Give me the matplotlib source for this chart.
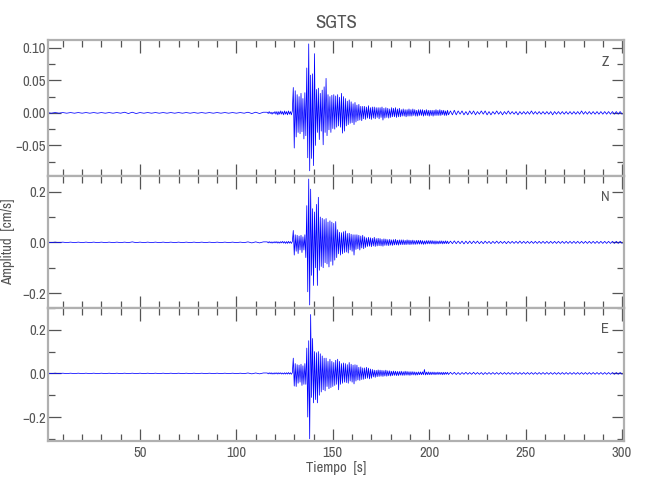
import numpy as np
import matplotlib
matplotlib.use("Agg")
import matplotlib.pyplot as plt
from matplotlib import font_manager
from matplotlib.ticker import MultipleLocator, FuncFormatter

# ---------------- data (amplitudes in 1e-3 cm/s) ----------------
station = "SGTS"
components = ["Z", "N", "E"]

pre_start, pre_step = 2.0, 2.0        # quiet part before the event
event_start, event_step = 116.0, 0.5  # event part
tail_start, tail_step = 211.0, 1.0    # coda tail

z_pre = [0.5, -0.5, 0.5, -0.5, 0.5, -0.5, 0.5, -0.5, 0.5, -0.5, 0.5, -0.5, 0.5, -0.5,
         0.5, -0.5, 0.5, -0.5, 0.5, -0.5, 1, -1, 1, -1, 0.5, -0.5, 0.5, -0.5, 0.5,
         -0.5, 0.5, -0.5, 0.5, -0.5, 0.5, -0.5, 0.5, -0.5, 0.5, -0.5, 0.5, -0.5, 0.5,
         -0.5, 0.5, -0.5, 0.5, -0.5, 0.5, -0.5, 0.5, -0.5, 1, -1, 1, -1, 1]
z_event = [1, -1, 2, -1, 1, -2, 1, -1, 2, -2,
           2, -3, 2, -2, 3, -2, 2, -3, 3, -2,
           2, -3, 3, -2, 2, -3, 3, 39, -54, 34,
           -37, 28, -30, 25, -32, 30, -29, 22, -40, 31,
           -35, 69, -69, 106, -89, 58, -70, 60, -81, 91,
           -50, 36, -30, 38, -41, 30, -28, 35, -49, 40,
           -30, 53, -35, 28, -26, 25, -30, 27, -24, 28,
           -25, 26, -22, 28, -20, 24, -22, 30, -31, 25,
           -28, 22, -20, 18, -18, 20, -16, 17, -15, 14,
           -18, 16, -14, 12, -12, 13, -11, 10, -12, 10,
           -9, 10, -10, 9, -8, 11, -9, 8, -10, 9,
           -8, 9, -9, 8, -7, 8, -9, 8, -7, 9,
           -11, 7, -8, 8, -7, 7, -8, 6, -7, 8,
           -6, 7, -6, 8, -7, 6, -6, 7, -6, 5,
           -5, 6, -5, 5, -6, 5, -5, 6, -5, 5,
           -5, 6, -4, 5, -5, 4, -5, 5, -4, 5,
           -4, 5, -5, 4, -4, 5, -4, 4, -5, 4,
           -4, 4, -5, 4, -4, 5, -4, 4, -4, 5,
           -4, 4, -3, 4, -4, 3, -4, 4, -3]
z_tail = [3, -3, 4, -3, 3, -2, 3, -3, 2, -3,
          3, -2, 3, -3, 2, -2, 3, -2, 3, -3,
          2, -3, 2, -2, 3, -2, 2, -3, 2, -2,
          3, -2, 2, -2, 2, -3, 2, -2, 2, -2,
          2, -2, 3, -2, 2, -2, 2, -2, 2, -2,
          2, -2, 2, -3, 2, -2, 2, -2, 2, -2,
          2, -2, 2, -2, 2, -2, 2, -2, 3, -2,
          2, -2, 2, -2, 2, -2, 2, -2, 2, -2,
          2, -2, 2, -2, 2, -2, 2, -2, 2, -2]

n_pre = [1, -1, 1, -1, 1, -1, 1, -1, 1, -1, 1, -1, 1, -1, 1, -1, 1, -1, 1, -1,
         1, -1, 2, -1, 1, -1, 1, -1, 1, -1, 1, -1, 1, -1, 1, -1, 1, -1, 1, -1,
         1, -1, 1, -1, 1, -1, 1, -1, 1, -1, 1, -1, 2, -2, 2, -2, 2]
n_event = [2, -2, 3, -2, 2, -3, 2, -2, 3, -2,
           3, -3, 2, -3, 3, -2, 4, -3, 3, -4,
           3, -4, 4, -3, 3, -4, 3, 47, -50, 30,
           -35, 28, -44, 25, -30, 28, -40, 22, -30, 30,
           -60, 145, -195, 250, -247, 210, -130, 133, -170, 120,
           -100, 150, -170, 178, -110, 100, -95, 95, -100, 90,
           -80, 94, -85, 80, -97, 85, -75, 80, -90, 75,
           -70, 82, -60, 50, -45, 40, -50, 38, -45, 42,
           -40, 45, -38, 35, -42, 36, -30, 32, -35, 30,
           -50, 30, -28, 30, -25, 28, -30, 25, -22, 28,
           -25, 22, -20, 18, -16, 20, -15, 18, -17, 16,
           -14, 20, -16, 15, -14, 16, -13, 15, -14, 12,
           -15, 14, -12, 13, -12, 11, -13, 12, -11, 10,
           -12, 11, -10, 12, -10, 9, -11, 10, -9, 10,
           -9, 10, -9, 8, -9, 10, -8, 9, -9, 8,
           -8, 9, -8, 7, -8, 8, -7, 8, -7, 8,
           -7, 7, -8, 6, -7, 7, -6, 7, -6, 7,
           -6, 7, -6, 6, -7, 6, -6, 5, -6, 6,
           -5, 6, -6, 5, -5, 6, -5, 5, -5]
n_tail = [5, -5, 6, -5, 5, -5, 5, -6, 5, -5,
          5, -5, 5, -4, 5, -5, 4, -5, 5, -4,
          4, -5, 4, -4, 5, -4, 4, -4, 4, -5,
          4, -4, 4, -4, 4, -4, 5, -4, 4, -4,
          4, -4, 4, -4, 4, -4, 4, -4, 4, -4,
          4, -4, 4, -4, 4, -4, 4, -4, 4, -4,
          4, -4, 4, -4, 4, -4, 4, -4, 4, -4,
          4, -4, 4, -4, 4, -4, 4, -4, 4, -4,
          4, -4, 4, -4, 4, -4, 4, -4, 4, -4]

e_pre = [1, -1, 1, -1, 1, -1, 1, -1, 1, -1, 1, -1, 1, -1, 1, -1, 1, -1, 1, -1,
         1, -1, 1, -1, 1, -1, 1, -1, 1, -1, 1, -1, 1, -1, 1, -1, 1, -1, 1, -1,
         1, -1, 1, -1, 1, -1, 1, -1, 1, -1, 1, -1, 2, -2, 2, -2, 2]
e_event = [2, -2, 3, -2, 3, -3, 2, -3, 3, -2,
           3, -3, 3, -2, 3, -3, 2, -3, 3, -3,
           3, -3, 4, -3, 3, -4, 3, 70, -58, 45,
           -60, 40, -45, 38, -40, 42, -55, 35, -50, 45,
           -50, 116, -200, 150, -300, 270, -110, 160, -135, 100,
           -120, 95, -135, 100, -100, 90, -85, 80, -75, 70,
           -80, 70, -60, 55, -70, 65, -65, 55, -60, 50,
           -55, 60, -50, 65, -75, 55, -50, 45, -45, 48,
           -40, 45, -42, 40, -45, 50, -35, 42, -40, 38,
           -48, 40, -35, 38, -30, 28, -32, 30, -28, 25,
           -27, 25, -24, 28, -22, 24, -25, 20, -22, 18,
           -16, 15, -18, 14, -15, 16, -14, 15, -13, 14,
           -14, 13, -12, 15, -13, 12, -11, 12, -12, 10,
           -10, 11, -9, 10, -10, 9, -10, 9, -8, 10,
           -9, 8, -9, 10, -8, 9, -8, 8, -9, 8,
           -7, 8, -7, 7, -8, 6, -7, 7, -6, 7,
           -6, 7, -6, 18, -7, 6, -6, 7, -6, 6,
           -6, 6, -5, 6, -6, 5, -5, 6, -5, 5,
           -5, 5, -6, 5, -5, 5, -4, 5, -5]
e_tail = [5, -4, 5, -5, 4, -5, 4, -4, 5, -4,
          4, -4, 5, -4, 4, -4, 4, -5, 4, -4,
          4, -4, 4, -4, 4, -4, 4, -4, 4, -4,
          4, -4, 4, -4, 4, -4, 4, -4, 4, -4,
          4, -4, 4, -4, 4, -4, 4, -4, 4, -4,
          4, -4, 4, -4, 4, -4, 4, -4, 4, -4,
          4, -4, 4, -4, 4, -4, 4, -4, 4, -4,
          4, -4, 4, -4, 4, -4, 4, -4, 4, -4,
          4, -4, 4, -4, 4, -4, 4, -4, 4, -4]

traces = {"Z": (z_pre, z_event, z_tail),
          "N": (n_pre, n_event, n_tail),
          "E": (e_pre, e_event, e_tail)}
ylims = {"Z": (-0.097, 0.112), "N": (-0.259, 0.262), "E": (-0.31, 0.30)}
ymajor = {"Z": 0.05, "N": 0.2, "E": 0.2}
ydigits = {"Z": 2, "N": 1, "E": 1}
xlim = (2.3, 301.0)


def build(pre, event, tail):
    t = np.concatenate([pre_start + pre_step * np.arange(len(pre)),
                        event_start + event_step * np.arange(len(event)),
                        tail_start + tail_step * np.arange(len(tail))])
    a = np.concatenate([pre, event, tail]) / 1000.0
    return t, a


# ---------------- style ----------------
ttf = font_manager.fontManager.ttflist
narrow = sorted({f.name for f in ttf if ("Narrow" in f.name or "Condensed" in f.name)})
dv_cond = [f for f in ttf if f.name == "DejaVu Sans" and f.stretch in ("condensed", "semi-condensed", 87)]
if narrow:
    plt.rcParams["font.family"] = [narrow[0], "DejaVu Sans"]
elif dv_cond:
    plt.rcParams["font.family"] = ["DejaVu Sans"]
    plt.rcParams["font.stretch"] = "condensed"
else:
    plt.rcParams["font.family"] = ["Liberation Sans", "DejaVu Sans"]
text_col = "#555555"
spine_col = "#b0b0b0"

fig = plt.figure(figsize=(6.5, 5.0), dpi=100)
W, H = 650.0, 500.0
left, right = 48 / W, 624 / W
bounds = [(40, 176), (176, 308), (308, 441)]


def make_fmt(nd):
    return FuncFormatter(lambda v, p: ("%.*f" % (nd, v)).replace("-", "\u2212"))


axes = []
for comp, (ytop, ybot) in zip(components, bounds):
    ax = fig.add_axes([left, 1 - ybot / H, right - left, (ybot - ytop) / H])
    t, a = build(*traces[comp])
    ax.plot(t, a, color="#0000ff", lw=0.55)
    ax.set_xlim(*xlim)
    ax.set_ylim(*ylims[comp])
    ax.xaxis.set_major_locator(MultipleLocator(50))
    ax.xaxis.set_minor_locator(MultipleLocator(10))
    ax.yaxis.set_major_locator(MultipleLocator(ymajor[comp]))
    ax.yaxis.set_minor_locator(MultipleLocator(ymajor[comp] / 2))
    ax.yaxis.set_major_formatter(make_fmt(ydigits[comp]))
    ax.tick_params(which="both", direction="in", top=True, right=True,
                   color=text_col, labelcolor=text_col, labelsize=10.5, width=0.9)
    ax.tick_params(which="major", length=9)
    ax.tick_params(which="minor", length=5)
    ax.tick_params(axis="y", pad=1.5)
    for s in ax.spines.values():
        s.set_color(spine_col)
        s.set_linewidth(1.6)
    ax.text(0.967, 0.84, comp, transform=ax.transAxes, ha="center", va="center",
            color=text_col, fontsize=10.5)
    if comp != "E":
        ax.tick_params(labelbottom=False)
    axes.append(ax)

axes[0].set_title(station, color=text_col, fontsize=13.5, pad=9)
axes[1].set_ylabel("Amplitud  [cm/s]", color=text_col, fontsize=10.5)
axes[1].yaxis.set_label_coords(-0.057, 0.5)
axes[2].set_xlabel("Tiempo  [s]", color=text_col, fontsize=10.5, labelpad=1)

fig.savefig("out.png", dpi=100)
